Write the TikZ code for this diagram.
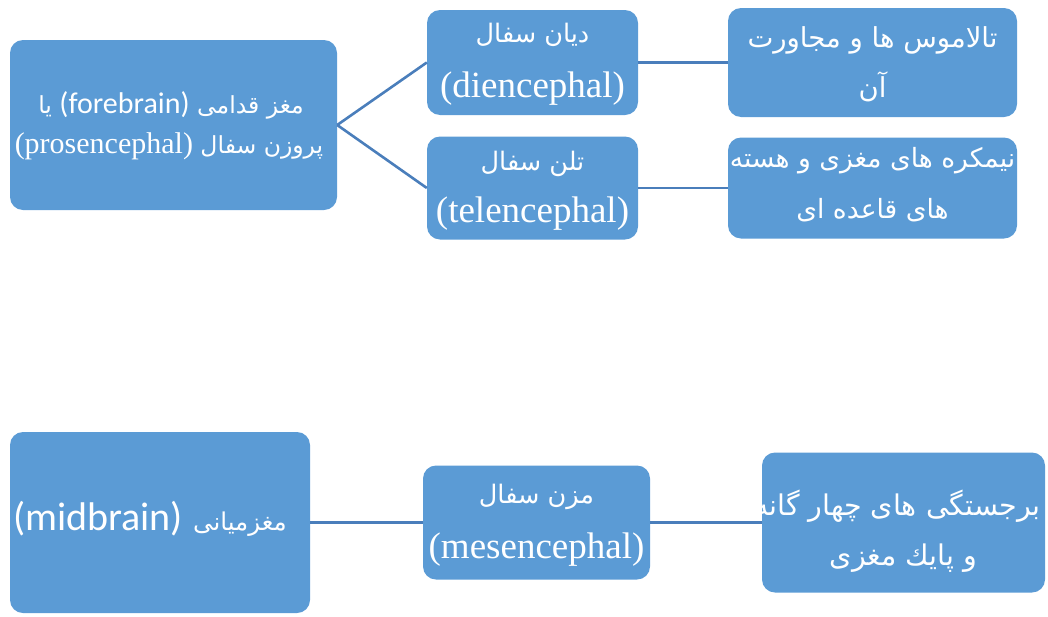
\documentclass[tikz,border=0pt]{standalone}
\usepackage{fontspec}
\setmainfont{Liberation Serif}
\TeXXeTstate=1
\newfontfamily\fa[Script=Arabic]{DejaVu Sans}
\newfontfamily\carl{Carlito}
\newcommand\per[2][24]{{\fontsize{#1}{#1}\fa\beginR #2\endR}}
\definecolor{boxblue}{HTML}{5B9BD5}
\definecolor{lineblue}{HTML}{4A7EBB}
\begin{document}
\begin{tikzpicture}[x=1pt,y=-1pt,
  box/.style={fill=boxblue, draw=none, rounded corners=13pt, inner sep=0pt},
  link/.style={draw=lineblue, line width=2.6pt},
  txt/.style={text=white, inner sep=0pt, anchor=base},
  fsA/.style={font=\fontsize{30}{36}\selectfont},
  fsB/.style={font=\fontsize{37}{44}\selectfont},
  fsF/.style={font=\fontsize{40}{48}\selectfont}]
\useasboundingbox (0,0) rectangle (1048,616);
% boxes
\node[box, minimum width=327pt, minimum height=170pt] (A) at (173.5,125) {};
\node[box, minimum width=211pt, minimum height=105pt] (B) at (532.5,62.5) {};
\node[box, minimum width=211pt, minimum height=103pt] (C) at (532.5,188) {};
\node[box, minimum width=289pt, minimum height=109pt] (D) at (872.5,62.5) {};
\node[box, minimum width=289pt, minimum height=101pt] (E) at (872.5,188) {};
\node[box, minimum width=300pt, minimum height=181pt] (F) at (160,522.5) {};
\node[box, minimum width=227pt, minimum height=114pt] (G) at (536.5,522.5) {};
\node[box, minimum width=283pt, minimum height=140pt] (H) at (903.5,522.5) {};
% connectors
\draw[link] (A.east) -- (B.west);
\draw[link] (A.east) -- (C.west);
\draw[link] (B.east) -- (D.west);
\draw[link] (C.east) -- (E.west);
\draw[link] (F.east) -- (G.west);
\draw[link] (G.east) -- (H.west);
% texts
\node[txt, fsA] (a1) at (171,113) {\per[23.5]{یا} {\carl(forebrain)} \per[23.5]{مغز قدامی}};
\node[txt, fsA] (a2) at (169,153) {(prosencephal) \per[23.5]{پروزن سفال}};
\node[txt, fsB] (b1) at (532.5,42) {\per[25.5]{دیان سفال}};
\node[txt, fsB] (b2) at (532.5,97) {(diencephal)};
\node[txt, fsB] (c1) at (532.5,170) {\per[25.5]{تلن سفال}};
\node[txt, fsB] (c2) at (532.5,222) {(telencephal)};
\node[txt, fsB] (d1) at (872.5,47) {\per[27.5]{تالاموس ها و مجاورت}};
\node[txt, fsB] (d2) at (872.5,97) {\per[27.5]{آن}};
\node[txt, fsB] (e1) at (872.5,167) {\per[26.5]{نیمکره های مغزی و هسته}};
\node[txt, fsB] (e2) at (872.5,218) {\per[26.5]{های قاعده ای}};
\node[txt, fsF] (f1) at (150,530) {{\carl(midbrain)} \per[24.5]{مغزمیانی}};
\node[txt, fsB] (g1) at (536.5,503) {\per[25.5]{مزن سفال}};
\node[txt, fsB] (g2) at (536.5,558) {(mesencephal)};
\node[txt, fsB] (h1) at (897.5,515) {\per[28.5]{برجستگی های چهار گانه}};
\node[txt, fsB] (h2) at (903.5,565) {\per[28.5]{و پایك مغزی}};
\end{tikzpicture}
\end{document}
